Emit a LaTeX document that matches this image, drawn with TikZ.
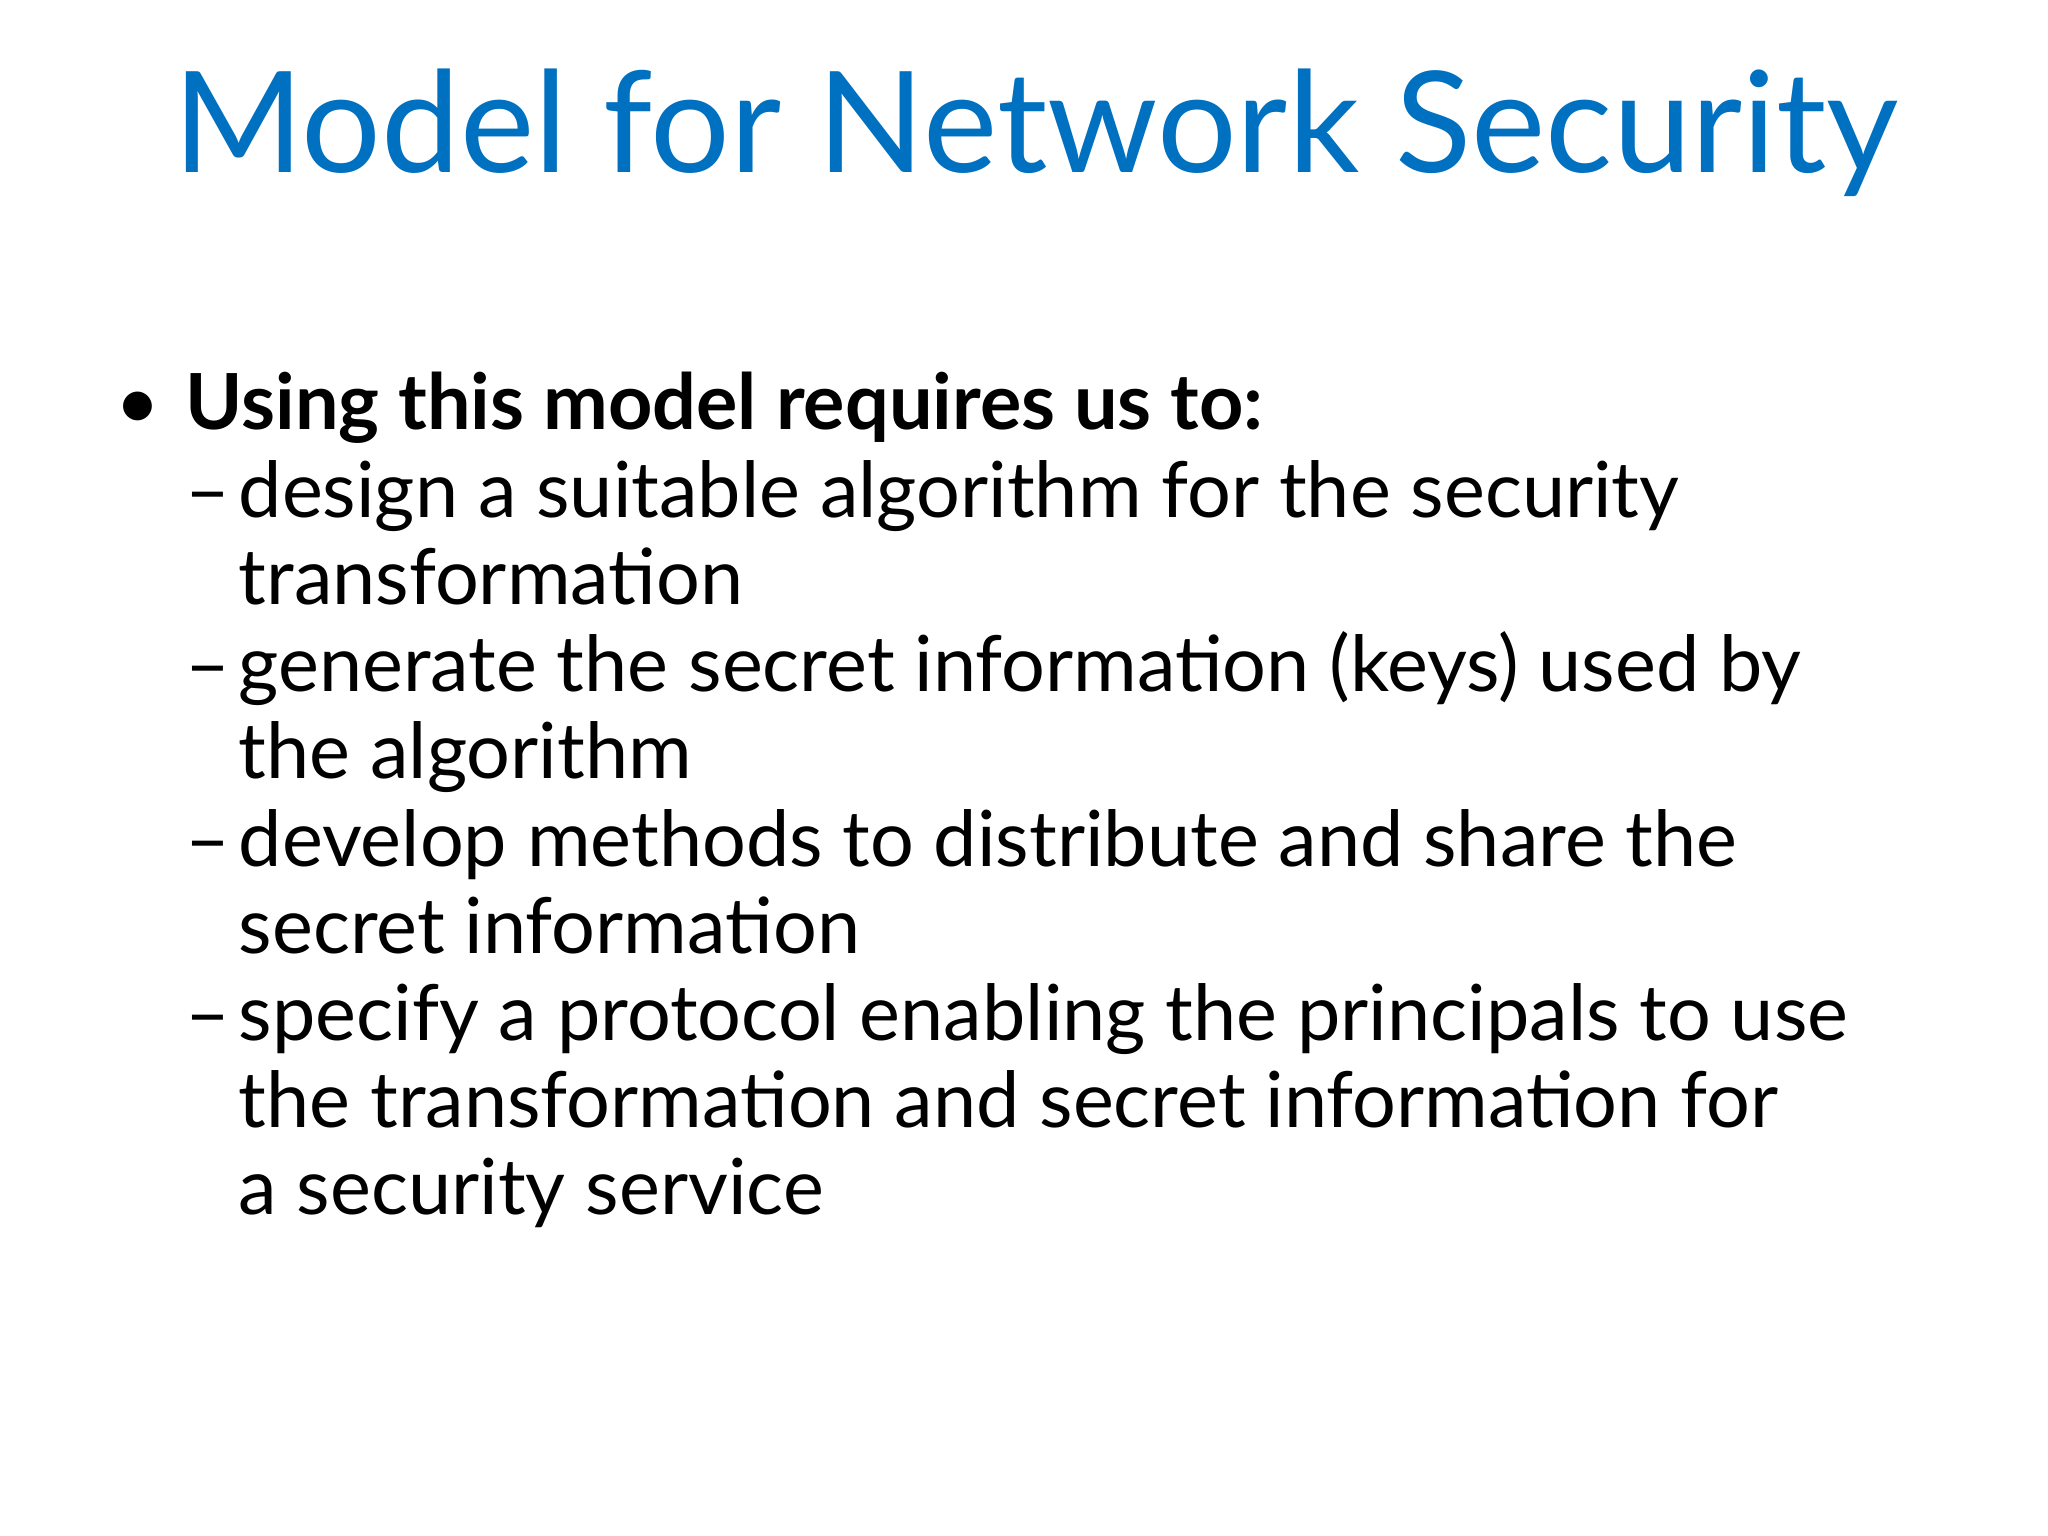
\documentclass[tikz,border=0pt]{standalone}
\usepackage{fontspec}
\setmainfont{Lato}
\definecolor{titleblue}{RGB}{0,112,192}
\begin{document}
\begin{tikzpicture}[x=0.01cm,y=-0.01cm,
  ln/.style={anchor=base west,inner sep=0pt,font=\fontsize{22pt}{26pt}\selectfont}]
\useasboundingbox (0,0) rectangle (2048,1536);
\fill[white] (0,0) rectangle (2048,1536);
\node[anchor=base,inner sep=0pt,text=titleblue,font=\fontsize{40pt}{44pt}\selectfont] (title) at (1036,172) {Model for Network Security};
\node[ln] (b) at (115,429) {•};
\node[ln,font=\fontsize{22pt}{26pt}\selectfont\bfseries] (l0) at (185,429) {Using this model requires us to:};
\foreach \y/\d/\t [count=\i] in {
 517/1/design a suitable algorithm for the security,
 604/0/transformation,
 691/1/generate the secret information (keys) used by,
 778/0/the algorithm,
 866/1/develop methods to distribute and share the,
 953/0/secret information,
 1040/1/specify a protocol enabling the principals to use,
 1127/0/the transformation and secret information for,
 1214/0/a security service}{
  \node[ln] (l\i) at (238,\y) {\t};
  \ifnum\d=1 \node[ln] (d\i) at (185,\y) {–}; \fi
}
\end{tikzpicture}
\end{document}
